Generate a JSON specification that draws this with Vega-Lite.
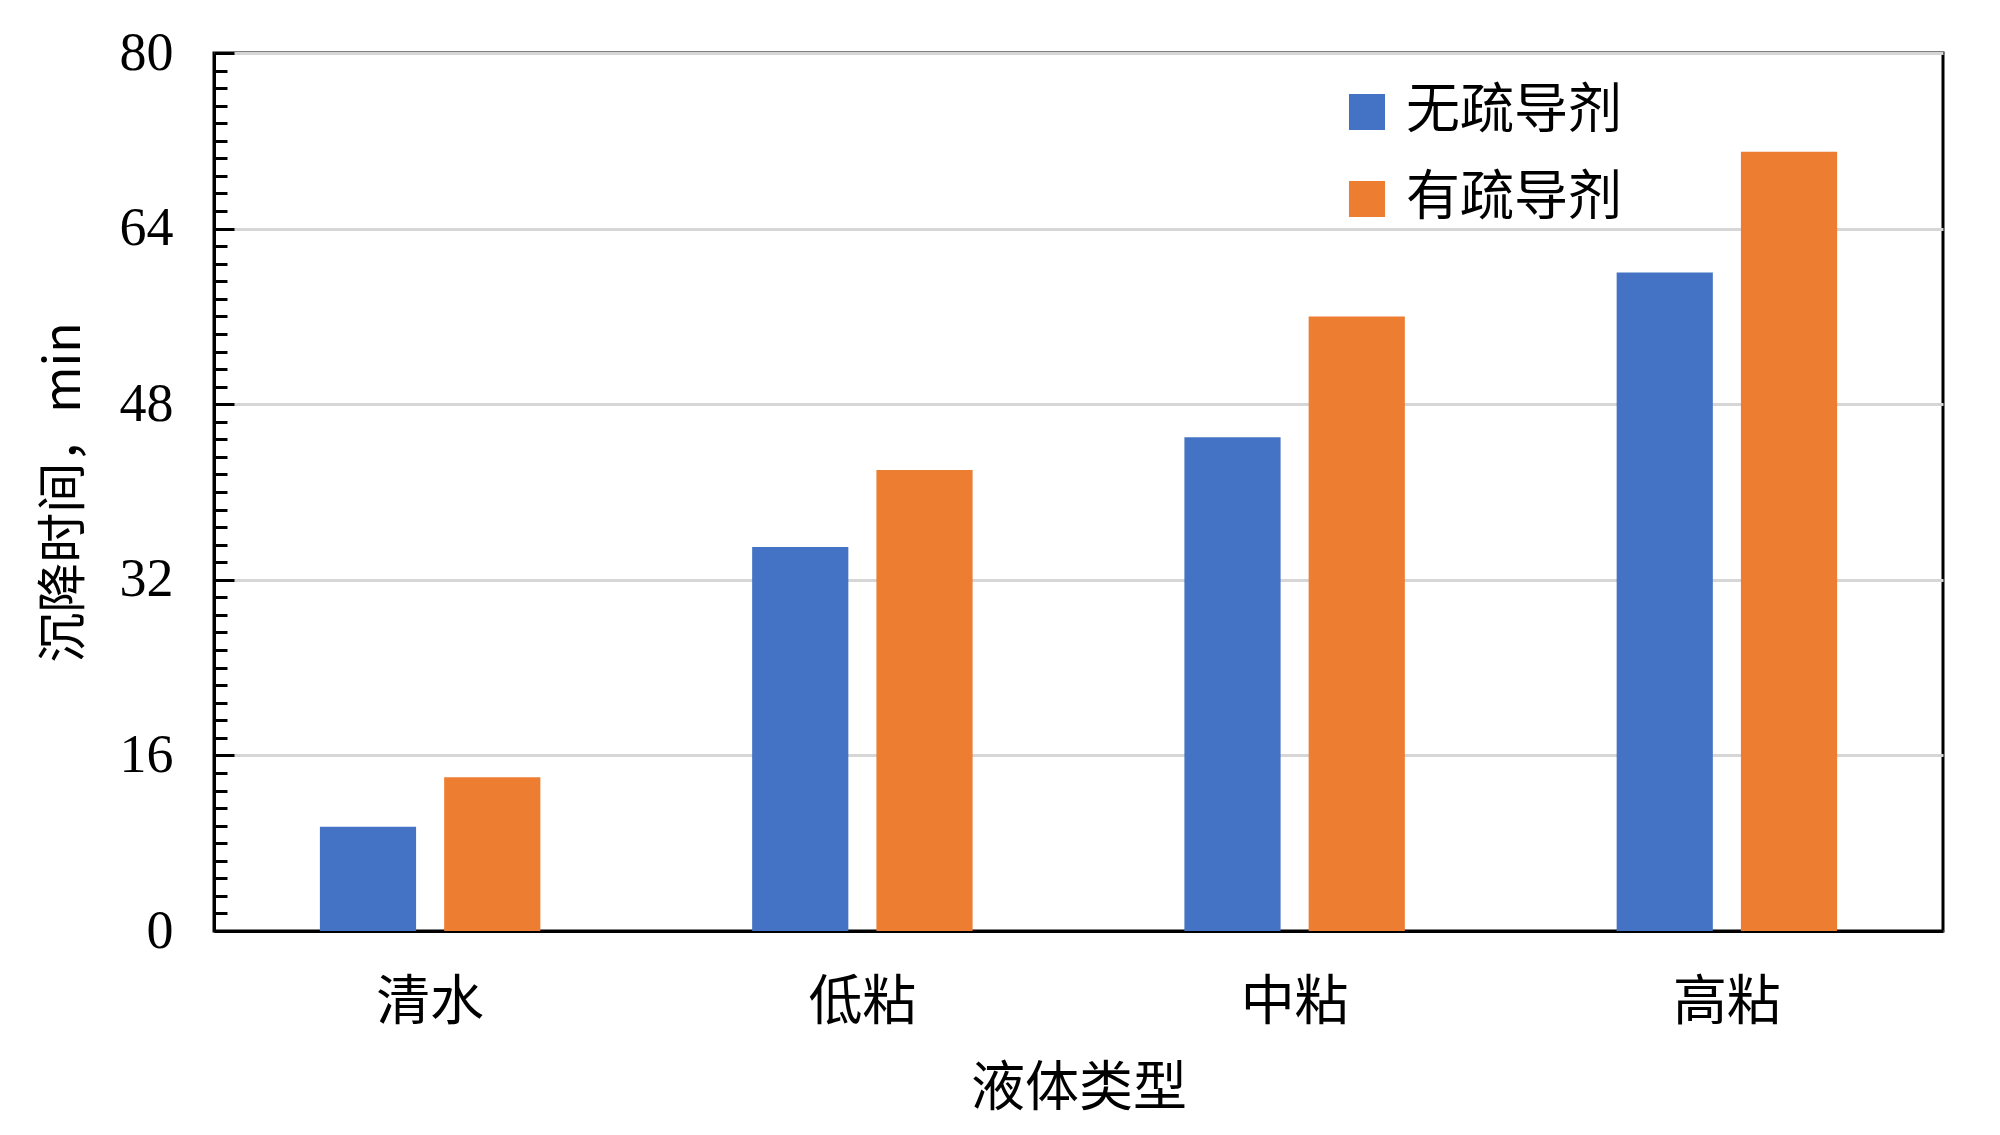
{
  "$schema": "https://vega.github.io/schema/vega-lite/v6.json",
  "width": 1729,
  "height": 878,
  "autosize": "none",
  "padding": {"left": 214, "top": 53, "right": 57, "bottom": 204},
  "background": "white",
  "config": {"view": {"stroke": "black", "strokeWidth": 3}},
  "data": {
    "values": [
      {"液体": "清水", "组": "无疏导剂", "时间": 9.5},
      {"液体": "清水", "组": "有疏导剂", "时间": 14},
      {"液体": "低粘", "组": "无疏导剂", "时间": 35},
      {"液体": "低粘", "组": "有疏导剂", "时间": 42},
      {"液体": "中粘", "组": "无疏导剂", "时间": 45},
      {"液体": "中粘", "组": "有疏导剂", "时间": 56},
      {"液体": "高粘", "组": "无疏导剂", "时间": 60},
      {"液体": "高粘", "组": "有疏导剂", "时间": 71}
    ]
  },
  "mark": {"type": "bar"},
  "encoding": {
    "x": {
      "field": "液体",
      "type": "nominal",
      "sort": ["清水", "低粘", "中粘", "高粘"],
      "scale": {"paddingInner": 0.49, "paddingOuter": 0.245},
      "title": "液体类型",
      "axis": {
        "ticks": false,
        "domainColor": "black",
        "domainWidth": 3,
        "labelAngle": 0,
        "labelFont": "Noto Sans CJK SC",
        "labelFontSize": 54,
        "labelColor": "black",
        "labelPadding": 45,
        "titleFont": "Noto Sans CJK SC",
        "titleFontSize": 54,
        "titleFontWeight": "normal",
        "titleColor": "black",
        "titlePadding": 32
      }
    },
    "xOffset": {
      "field": "组",
      "sort": ["无疏导剂", "有疏导剂"],
      "scale": {"paddingInner": 0.226, "paddingOuter": 0}
    },
    "y": {
      "field": "时间",
      "type": "quantitative",
      "scale": {"domain": [0, 80], "nice": false},
      "title": "沉降时间，min",
      "axis": {
        "values": [0, 1.6, 3.2, 4.8, 6.4, 8, 9.6, 11.2, 12.8, 14.4, 16, 17.6, 19.2, 20.8, 22.4, 24, 25.6, 27.2, 28.8, 30.4, 32, 33.6, 35.2, 36.8, 38.4, 40, 41.6, 43.2, 44.8, 46.4, 48, 49.6, 51.2, 52.8, 54.4, 56, 57.6, 59.2, 60.8, 62.4, 64, 65.6, 67.2, 68.8, 70.4, 72, 73.6, 75.2, 76.8, 78.4, 80],
        "labelExpr": "datum.value % 16 == 0 ? datum.label : ''",
        "tickSize": {"condition": {"test": "datum.value % 16 == 0", "value": -20}, "value": -13},
        "tickWidth": 3,
        "tickColor": "black",
        "grid": true,
        "gridColor": "#d6d6d6",
        "gridWidth": 3,
        "gridOpacity": {"condition": {"test": "datum.value % 16 == 0", "value": 1}, "value": 0},
        "domainColor": "black",
        "domainWidth": 3,
        "labelFont": "Liberation Serif",
        "labelFontSize": 54,
        "labelColor": "black",
        "labelPadding": 61,
        "labelOverlap": false,
        "titleFont": "Noto Sans CJK SC",
        "titleFontSize": 50,
        "titleFontWeight": "normal",
        "titleColor": "black",
        "titlePadding": 30
      }
    },
    "color": {
      "field": "组",
      "type": "nominal",
      "sort": ["无疏导剂", "有疏导剂"],
      "scale": {"range": ["#4472C4", "#ED7D31"]},
      "legend": {
        "orient": "none",
        "legendX": 1126,
        "legendY": 32,
        "title": null,
        "padding": 0,
        "symbolType": "square",
        "symbolSize": 1300,
        "symbolStrokeWidth": 0,
        "symbolOpacity": 1,
        "labelFont": "Noto Sans CJK SC",
        "labelFontSize": 54,
        "labelLimit": 500,
        "labelColor": "black",
        "labelOffset": 12,
        "rowPadding": 33
      }
    }
  }
}
